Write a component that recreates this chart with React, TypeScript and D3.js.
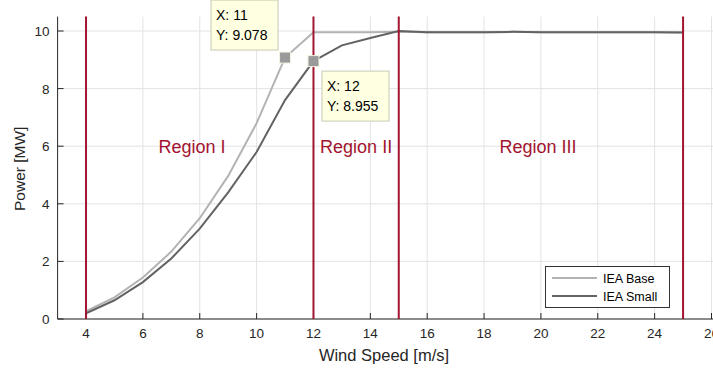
import React from "react";
import * as d3 from "d3";

const windSpeed = [4, 5, 6, 7, 8, 9, 10, 11, 12, 13, 14, 15, 16, 17, 18, 19, 20, 21, 22, 23, 24, 25];
const ieaBase = [0.27, 0.75, 1.44, 2.34, 3.5, 4.97, 6.8, 9.078, 9.96, 9.96, 9.96, 9.97, 9.96, 9.96, 9.96, 9.97, 9.96, 9.96, 9.96, 9.96, 9.96, 9.95];
const ieaSmall = [0.2, 0.65, 1.28, 2.1, 3.14, 4.4, 5.8, 7.6, 8.955, 9.5, 9.76, 10.0, 9.96, 9.96, 9.96, 9.97, 9.96, 9.96, 9.96, 9.96, 9.96, 9.95];
const xTicks = [4, 6, 8, 10, 12, 14, 16, 18, 20, 22, 24, 26];
const yTicks = [0, 2, 4, 6, 8, 10];
const regionBounds = [4, 12, 15, 25];
const regionLabels = [
  { text: "Region I", x: 7.73 },
  { text: "Region II", x: 13.5 },
  { text: "Region III", x: 19.9 },
];
const regionLabelY = 6;
const tips = [
  { x: 11, y: 9.078, side: "left" },
  { x: 12, y: 8.955, side: "right" },
];

const FONT = "'Liberation Sans', Arial, Helvetica, sans-serif";
const RED = "#a2142f";
const AX = "#262626";

export default function App() {
  const W = 713, H = 371;
  const x = d3.scaleLinear().domain([3, 26]).range([57.6, 711.5]);
  const y = d3.scaleLinear().domain([0, 10.5]).range([319, 16.6]);
  const line = d3.line<number>().x((_, i) => x(windSpeed[i])).y((d) => y(d));

  return (
    <svg width={W} height={H} style={{ position: "absolute", left: 0, top: 0, fontFamily: FONT }}>
      <rect width={W} height={H} fill="#fff" />
      {/* grid */}
      {xTicks.map((t) => (
        <line key={"gx" + t} x1={x(t)} x2={x(t)} y1={y(10.5)} y2={y(0)} stroke="#e3e3e3" strokeWidth={1} />
      ))}
      {yTicks.map((t) => (
        <line key={"gy" + t} x1={x(3)} x2={W} y1={y(t)} y2={y(t)} stroke="#e3e3e3" strokeWidth={1} />
      ))}
      {/* axes */}
      <line x1={x(3)} x2={W} y1={y(0)} y2={y(0)} stroke={AX} strokeWidth={1} />
      <line x1={x(3)} x2={x(3)} y1={y(10.5)} y2={y(0)} stroke={AX} strokeWidth={1} />
      {xTicks.map((t) => (
        <g key={"tx" + t}>
          <line x1={x(t)} x2={x(t)} y1={y(0)} y2={y(0) - 6} stroke={AX} />
          <text x={x(t)} y={y(0) + 19} textAnchor="middle" fontSize={13.5} fill={AX}>{t}</text>
        </g>
      ))}
      {yTicks.map((t) => (
        <g key={"ty" + t}>
          <line x1={x(3)} x2={x(3) + 6} y1={y(t)} y2={y(t)} stroke={AX} />
          <text x={x(3) - 8} y={y(t) + 5} textAnchor="end" fontSize={13.5} fill={AX}>{t}</text>
        </g>
      ))}
      <text x={384} y={361} textAnchor="middle" fontSize={16.5} fill={AX}>Wind Speed [m/s]</text>
      <text transform={`translate(25,${y(5.25) + 1}) rotate(-90)`} textAnchor="middle" fontSize={15.5} fill={AX}>Power [MW]</text>
      {/* lines */}
      <path d={line(ieaBase) || ""} fill="none" stroke="#b3b3b3" strokeWidth={2} />
      <path d={line(ieaSmall) || ""} fill="none" stroke="#636363" strokeWidth={2} />
      {/* region bounds */}
      {regionBounds.map((b) => (
        <line key={"rb" + b} x1={x(b)} x2={x(b)} y1={y(10.5)} y2={y(0)} stroke={RED} strokeWidth={2} />
      ))}
      {regionLabels.map((r) => (
        <text key={r.text} x={x(r.x)} y={y(regionLabelY) + 6.5} textAnchor="middle" fontSize={18} fill={RED}>{r.text}</text>
      ))}
      {/* legend */}
      <rect x={545.5} y={266.5} width={124} height={41} fill="#fff" stroke="#333" strokeWidth={1} />
      <line x1={552} x2={597} y1={278} y2={278} stroke="#b3b3b3" strokeWidth={2} />
      <line x1={552} x2={597} y1={296} y2={296} stroke="#636363" strokeWidth={2} />
      <text x={603} y={282.5} fontSize={12.5} fill="#000">IEA Base</text>
      <text x={603} y={300.5} fontSize={12.5} fill="#000">IEA Small</text>
      {/* datatips */}
      {tips.map((t) => {
        const px = x(t.x), py = y(t.y);
        const bx = t.side === "left" ? px - 74 : px + 8.5;
        const by = t.side === "left" ? py - 57.5 : py + 10;
        return (
          <g key={"tip" + t.x}>
            <rect x={bx} y={by} width={67} height={50} fill="#ffffe1" stroke="#c9c9b5" strokeWidth={1} />
            <text x={bx + 5} y={by + 20} fontSize={14} fill="#000">X: {t.x}</text>
            <text x={bx + 5} y={by + 40} fontSize={14} fill="#000">Y: {t.y}</text>
            <rect x={px - 5.5} y={py - 5.5} width={11} height={11} fill="#9a9a9a" stroke="#f2f2e0" strokeWidth={1} />
          </g>
        );
      })}
    </svg>
  );
}
